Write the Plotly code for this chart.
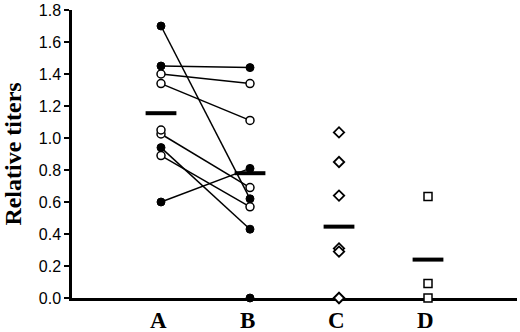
import plotly.graph_objects as go

categories = ["A", "B", "C", "D"]
cat_pos = [1, 2, 3, 4]

# Paired A -> B values (filled = closed circles, open = open circles)
pairs_filled_A = [1.70, 1.45, 0.94, 0.60]
pairs_filled_B = [0.62, 1.44, 0.43, 0.81]
pairs_open_A = [1.40, 1.34, 1.025, 0.89]
pairs_open_B = [1.34, 1.11, 0.69, 0.57]
unpaired_open_A = [1.05]
unpaired_filled_B = [0.0]

C_values = [1.035, 0.85, 0.64, 0.31, 0.29, 0.0, 0.0]
D_values = [0.635, 0.09, 0.0]

means = [1.155, 0.78, 0.446, 0.24]

fig = go.Figure()

# connecting lines
for a, b in list(zip(pairs_filled_A, pairs_filled_B)) + list(zip(pairs_open_A, pairs_open_B)):
    fig.add_trace(go.Scatter(x=[cat_pos[0], cat_pos[1]], y=[a, b], mode="lines",
                             line=dict(color="black", width=1.5), hoverinfo="skip",
                             showlegend=False, cliponaxis=False))

# mean bars
fig.add_trace(go.Scatter(x=cat_pos, y=means, mode="markers",
                         marker=dict(symbol="line-ew", size=22, color="black",
                                     line=dict(color="black", width=4)),
                         showlegend=False, cliponaxis=False))

filled_A = pairs_filled_A
filled_B = pairs_filled_B + unpaired_filled_B
open_A = pairs_open_A + unpaired_open_A
open_B = pairs_open_B

fig.add_trace(go.Scatter(x=[cat_pos[0]] * len(filled_A) + [cat_pos[1]] * len(filled_B),
                         y=filled_A + filled_B, mode="markers",
                         marker=dict(symbol="circle", size=8, color="black",
                                     line=dict(color="black", width=1)),
                         showlegend=False, cliponaxis=False))
fig.add_trace(go.Scatter(x=[cat_pos[0]] * len(open_A) + [cat_pos[1]] * len(open_B),
                         y=open_A + open_B, mode="markers",
                         marker=dict(symbol="circle", size=8, color="white",
                                     line=dict(color="black", width=1.5)),
                         showlegend=False, cliponaxis=False))
fig.add_trace(go.Scatter(x=[cat_pos[2]] * len(C_values), y=C_values, mode="markers",
                         marker=dict(symbol="diamond", size=8, color="white",
                                     line=dict(color="black", width=1.8)),
                         showlegend=False, cliponaxis=False))
fig.add_trace(go.Scatter(x=[cat_pos[3]] * len(D_values), y=D_values, mode="markers",
                         marker=dict(symbol="square", size=8, color="white",
                                     line=dict(color="black", width=1.5)),
                         showlegend=False, cliponaxis=False))

# category labels under the axis
for pos, cat in zip(cat_pos, categories):
    fig.add_annotation(x=pos, y=0, xref="x", yref="y", text="<b>%s</b>" % cat,
                       showarrow=False, yanchor="middle", yshift=-22, xshift=-3,
                       font=dict(family="Liberation Serif", size=23, color="black"))

fig.update_layout(
    width=520, height=332,
    margin=dict(l=72, r=3, t=10, b=34),
    paper_bgcolor="white", plot_bgcolor="white",
    xaxis=dict(range=[0, 5], showticklabels=False, automargin=False,
               showgrid=False, zeroline=False, showline=True, linecolor="black",
               linewidth=2.5, ticks="", layer="below traces"),
    yaxis=dict(range=[0, 1.8], tickvals=[0, 0.2, 0.4, 0.6, 0.8, 1.0, 1.2, 1.4, 1.6, 1.8],
               tickformat=".1f", showgrid=False, zeroline=False, showline=True,
               automargin=False,
               linecolor="black", linewidth=2.5, ticks="outside", ticklen=5, tickwidth=2,
               tickcolor="black", layer="below traces",
               tickfont=dict(family="Liberation Sans", size=16, color="black"),
               title=dict(text="<b>Relative titers</b>", standoff=12,
                          font=dict(family="Liberation Serif", size=24, color="black"))),
)

fig.write_html("out.html", config={"displayModeBar": False},
               post_script="document.body.style.margin='0';")
